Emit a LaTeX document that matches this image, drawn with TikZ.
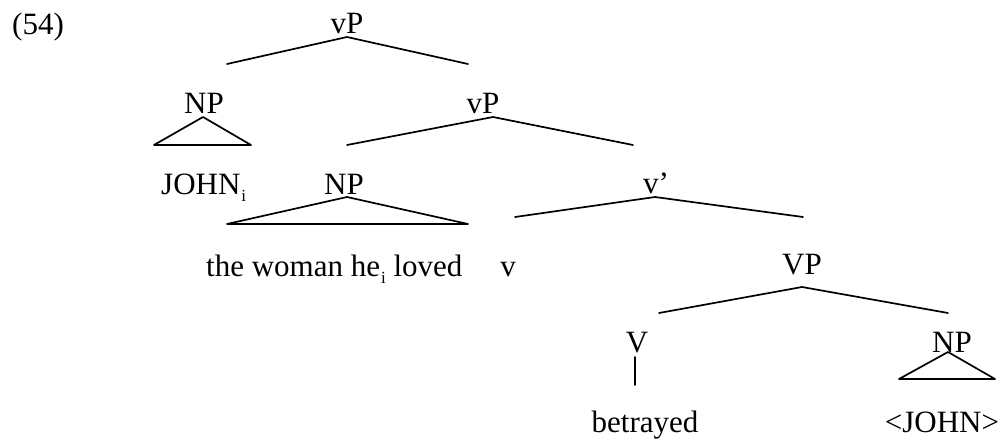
\documentclass[tikz,border=0pt]{standalone}
\usepackage{fontspec}
\setmainfont{Liberation Serif}
\newcommand{\lowsub}[1]{\kern1pt\raisebox{-7pt}{\fontsize{17}{20}\selectfont #1}}
\begin{document}
\begin{tikzpicture}[x=1pt,y=-1pt,
  lbl/.style={anchor=base,inner sep=0pt,font=\fontsize{31}{37}\selectfont},
  br/.style={line width=1.7pt,line cap=round,line join=round}]
\useasboundingbox (0,0) rectangle (1006,439);
% labels
\node[lbl,anchor=base west] (num) at (12,34) {(54)};
\node[lbl] (vP1) at (347,33) {vP};
\node[lbl] (NP1) at (204,113) {NP};
\node[lbl,anchor=base west] (john) at (161,194) {JOHN\lowsub{i}};
\node[lbl] (vP2) at (483,113) {vP};
\node[lbl] (NP2) at (344,194) {NP};
\node[lbl,anchor=base west] (woman) at (206,276) {the woman he\lowsub{i} loved};
\node[lbl] (v) at (508,276) {v};
\node[lbl] (vbar) at (656,193) {v’};
\node[lbl] (VP) at (802,274) {VP};
\node[lbl] (V) at (637,352) {V};
\node[lbl] (NP3) at (952,352) {NP};
\node[lbl] (betr) at (645,432) {betrayed};
\node[lbl] (john2) at (942,432) {<JOHN>};
% branch points
\coordinate (a1) at (347,37);  \coordinate (a1l) at (227,64);  \coordinate (a1r) at (468,64);
\coordinate (t1) at (203,117); \coordinate (t1l) at (154,145); \coordinate (t1r) at (251,145);
\coordinate (a2) at (493,117); \coordinate (a2l) at (347,145); \coordinate (a2r) at (633,145);
\coordinate (t2) at (347,197); \coordinate (t2l) at (227,224); \coordinate (t2r) at (468,224);
\coordinate (a3) at (655,197); \coordinate (a3l) at (515,217); \coordinate (a3r) at (803,217);
\coordinate (a4) at (802,287); \coordinate (a4l) at (659,313); \coordinate (a4r) at (948,313);
\coordinate (s1) at (635,357); \coordinate (s1b) at (635,385);
\coordinate (t3) at (948,352); \coordinate (t3l) at (899,379); \coordinate (t3r) at (995,379);
% branches
\draw[br] (a1l) -- (a1) -- (a1r);
\draw[br] (t1) -- (t1l) -- (t1r) -- cycle;
\draw[br] (a2l) -- (a2) -- (a2r);
\draw[br] (t2) -- (t2l) -- (t2r) -- cycle;
\draw[br] (a3l) -- (a3) -- (a3r);
\draw[br] (a4l) -- (a4) -- (a4r);
\draw[br] (s1) -- (s1b);
\draw[br] (t3) -- (t3l) -- (t3r) -- cycle;
\end{tikzpicture}
\end{document}
